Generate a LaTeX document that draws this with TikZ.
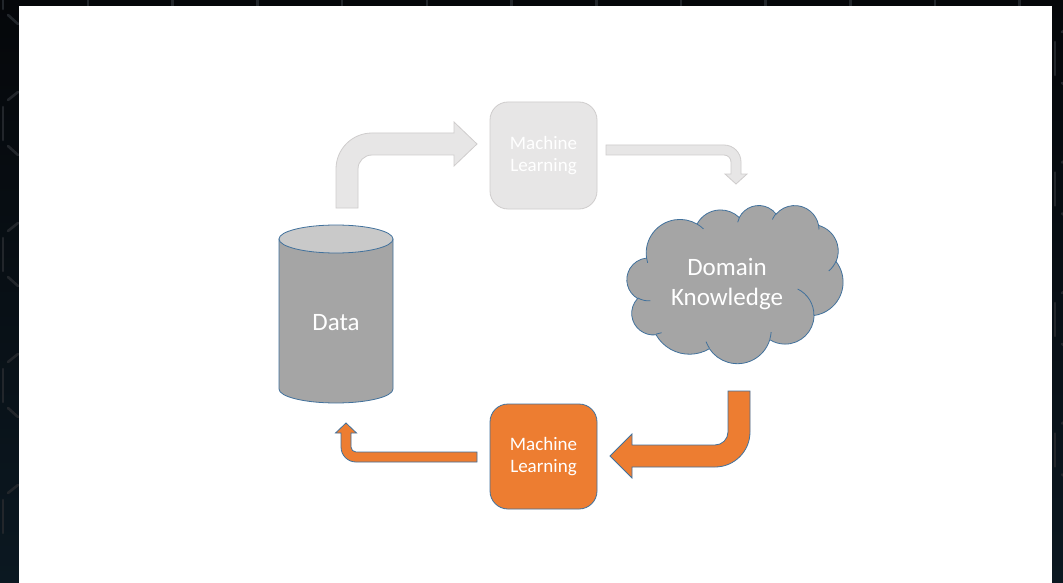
\documentclass[tikz,border=0pt]{standalone}
\usepackage{fontspec}
\setmainfont{Carlito}
\definecolor{mlorange}{HTML}{ED7D31}
\definecolor{bluebd}{HTML}{41719C}
\definecolor{cloudgray}{HTML}{A5A5A5}
\definecolor{cyltop}{HTML}{C9C9C9}
\definecolor{lightfill}{HTML}{E7E6E6}
\definecolor{lightbd}{HTML}{CFCDCD}
\definecolor{bgtop}{HTML}{05070A}
\definecolor{bgbot}{HTML}{0B1821}
\definecolor{bgmark}{HTML}{22262B}
\newcommand\cloudarc[4]{arc[x radius=#1, y radius=#2, start angle={atan2((#1)*sin(#3),(#2)*cos(#3))}, delta angle={mod(atan2((#1)*sin((#3)+(#4)),(#2)*cos((#3)+(#4)))-atan2((#1)*sin(#3),(#2)*cos(#3))+720,360)}]}
\begin{document}
\begin{tikzpicture}[x=1pt,y=-1pt,
  bgdash/.style={draw=bgmark, line width=2.6pt, line cap=round},
  grayarrow/.style={fill=lightfill, draw=lightbd, line width=0.8pt},
  orangearrow/.style={fill=mlorange, draw=bluebd, line width=0.8pt},
  mlbox/.style={rectangle, rounded corners=18pt, minimum width=107pt, inner sep=0pt, align=center, line width=0.8pt, font=\fontsize{19}{22.5}\selectfont},
  bluestroke/.style={draw=bluebd, line width=0.8pt},
  bigtext/.style={text=white, align=center, font=\fontsize{25}{30}\selectfont}]
\useasboundingbox (0,0) rectangle (1063,583);
% dark backdrop
\fill[top color=bgtop, bottom color=bgbot] (0,0) rectangle (1063,583);
\foreach \x in {88,172.7,...,1063} \draw[bgdash] (\x,-3) -- (\x,6);
\foreach \m in {-1,0,1,2,3} {
  \draw[bgdash] (3,107+131*\m) -- (3,140+131*\m);
  \draw[bgdash] (8,100+131*\m) -- (18,92+131*\m);
  \draw[bgdash] (8,15+131*\m) -- (18,24+131*\m);
  \draw[bgdash] (1055,42+130.5*\m) -- (1055,75+130.5*\m);
  \draw[bgdash] (1062,32+130.5*\m) -- (1068,28+130.5*\m);
  \draw[bgdash] (1062,83+130.5*\m) -- (1068,87+130.5*\m);
}
% slide
\fill[white] (19,6) rectangle (1052,583);
% top grey bent arrow
\draw[grayarrow] (336,208) -- (336,169) arc[start angle=180,end angle=270,radius=36]
  -- (454,133) -- (454,122) -- (477,144) -- (454,166) -- (454,155) -- (372,155)
  arc[start angle=270,end angle=180,radius=14] -- (358,208) -- cycle;
% top machine learning box
\node[mlbox, fill=lightfill, draw=lightbd, text=white, minimum height=107pt] (mltop) at (543.5,155.5) {Machine\\Learning};
% thin grey arrow
\draw[grayarrow] (606,145) -- (724,145) arc[start angle=270,end angle=360,radius=17]
  -- (741,174) -- (747,174) -- (736,184) -- (725,174) -- (731,174) -- (731,162)
  arc[start angle=0,end angle=-90,radius=7] -- (606,155) -- cycle;
% cloud
\begin{scope}[shift={(627,205)}, xscale=50, yscale=36.6]
\draw[bluestroke, fill=cloudgray] (0.39,1.437)
  \cloudarc{0.6753}{0.9190}{-190.4875}{123.7805}
  \cloudarc{0.5333}{0.7267}{-144.1024}{89.9452}
  \cloudarc{0.4365}{0.5945}{-145.8079}{99.7230}
  \cloudarc{0.4857}{0.6595}{-130.9861}{117.2417}
  \cloudarc{0.5333}{0.7273}{-78.7089}{109.0269}
  \cloudarc{0.6775}{0.9220}{-46.2673}{130.2690}
  \cloudarc{0.5785}{0.7867}{0.6250}{114.0333}
  \cloudarc{0.6752}{0.9215}{22.4516}{115.1726}
  \cloudarc{0.7720}{1.0543}{66.2426}{75.7110}
  \cloudarc{0.4360}{0.5918}{-274.9421}{146.7356}
  \cloudarc{0.4345}{0.5945}{-246.8285}{152.5189}
  -- cycle;
\draw[bluestroke]
  (0.4693,2.6177) \cloudarc{0.4345}{0.5945}{86.742}{26.4295}
  (0.6928,3.4899) \cloudarc{0.4360}{0.5918}{73.6105}{11.4475}
  (1.6478,3.9090) \cloudarc{0.6752}{0.9215}{137.6241}{14.0811}
  (2.8827,3.4751) \cloudarc{0.6752}{0.9215}{6.4533}{15.9984}
  (3.4129,2.2954) \cloudarc{0.5785}{0.7867}{-70.2924}{70.9174}
  (4.1798,1.5354) \cloudarc{0.5333}{0.7273}{30.3180}{27.7515}
  (3.8324,0.5426) \cloudarc{0.4857}{0.6595}{-13.7443}{14.8589}
  (2.9078,0.3952) \cloudarc{0.4857}{0.6595}{-149.1815}{18.1954}
  (2.2141,0.4720) \cloudarc{0.4365}{0.5945}{-163.4943}{17.6864}
  (1.4000,0.5192) \cloudarc{0.6753}{0.9190}{-66.7070}{12.3194}
  (0.4127,1.5789) \cloudarc{0.6753}{0.9190}{157.6544}{11.8582};
\end{scope}
\node[bigtext] (dk) at (727,284) {Domain\\Knowledge};
% data cylinder
\draw[bluestroke, fill=cloudgray] (279,239) -- (279,389)
  arc[start angle=180,end angle=0,x radius=57,y radius=14] -- (393,239) -- cycle;
\draw[bluestroke, fill=cyltop] (336,239) ellipse [x radius=57, y radius=14];
\node[bigtext] (data) at (336,322.5) {Data};
% bottom machine learning box
\node[mlbox, fill=mlorange, draw=bluebd, text=white, minimum height=105pt] (mlbot) at (543.5,456.5) {Machine\\Learning};
% big orange arrow
\draw[orangearrow] (728,391) -- (750,391) -- (750,432) arc[start angle=0,end angle=90,radius=35]
  -- (632,467) -- (632,478) -- (610,456) -- (632,434) -- (632,445) -- (715,445)
  arc[start angle=90,end angle=0,radius=13] -- cycle;
% small orange arrow
\draw[orangearrow] (477,452) -- (477,462) -- (356,462) arc[start angle=90,end angle=180,radius=15]
  -- (341,433) -- (335.5,433) -- (346,423) -- (356.5,433) -- (351,433) -- (351,447)
  arc[start angle=180,end angle=90,radius=5] -- cycle;
\end{tikzpicture}
\end{document}
